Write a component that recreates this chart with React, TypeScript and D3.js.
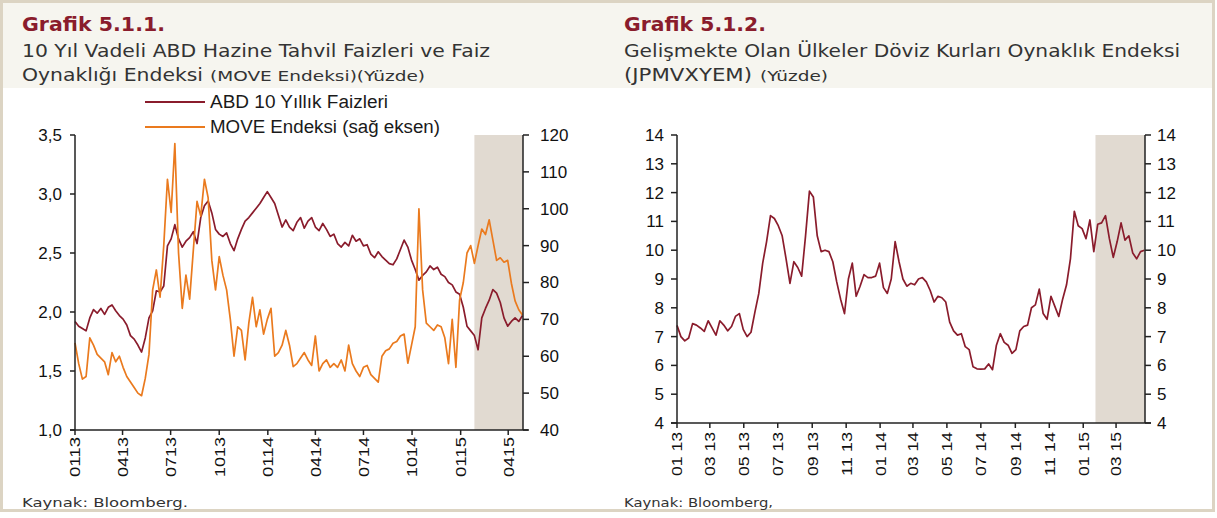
import React from "react";
import * as d3 from "d3";

// weekly readings, first point 2013-01-01
const ust10y = [
  1.92, 1.88, 1.86, 1.84, 1.95, 2.02, 1.99, 2.03, 1.98, 2.04, 2.06, 2.01, 1.97, 1.94, 1.89, 1.8,
  1.77, 1.72, 1.66, 1.78, 1.95, 2.01, 2.18, 2.17, 2.22, 2.56, 2.62, 2.74, 2.62, 2.55, 2.6, 2.63,
  2.68, 2.58, 2.8, 2.9, 2.94, 2.84, 2.7, 2.66, 2.64, 2.67, 2.58, 2.52, 2.62, 2.7, 2.77, 2.8,
  2.84, 2.88, 2.92, 2.97, 3.02, 2.97, 2.92, 2.82, 2.72, 2.78, 2.72, 2.69, 2.76, 2.8, 2.71, 2.77,
  2.8, 2.72, 2.69, 2.75, 2.7, 2.64, 2.66, 2.58, 2.55, 2.59, 2.56, 2.65, 2.6, 2.62, 2.56, 2.57,
  2.49, 2.46, 2.51, 2.47, 2.44, 2.41, 2.4, 2.45, 2.53, 2.61, 2.55, 2.44, 2.36, 2.27, 2.31, 2.34,
  2.39, 2.36, 2.38, 2.32, 2.3, 2.25, 2.23, 2.17, 2.15, 2.04, 1.88, 1.84, 1.8, 1.68, 1.95, 2.03,
  2.1, 2.19, 2.16, 2.08, 1.95, 1.88, 1.92, 1.95, 1.92, 1.97,
];

const moveIndex = [
  63.6, 58, 53.8, 54.5, 65, 63, 60.5, 59.5, 58.5, 55, 61, 58.5, 60, 57, 54.5, 53,
  51.5, 50, 49.3, 54, 60.5, 78, 83.4, 76, 90, 108, 99, 117.7, 88, 73, 82, 75.5,
  88.8, 102, 98, 108, 103, 86, 78, 87, 82, 78, 70, 60, 68, 67, 59, 69,
  76, 68, 72.6, 66, 70, 73, 60, 61, 63, 67, 63, 57.2, 58, 59.5, 61, 59,
  57.5, 65.5, 56, 58, 59, 57, 58, 57, 59, 56, 63, 58, 56, 54.5, 57, 57.5,
  55, 54, 53, 60, 61.5, 62, 63.5, 64, 65.5, 66, 58.1, 63, 68, 100, 78, 69,
  68, 67, 68.5, 68, 65, 58, 70, 57, 75.3, 80, 88, 90, 85.2, 90, 94.5, 93,
  97, 91.5, 86, 86.7, 85.5, 86, 79.8, 75, 72.6, 71.2,
];

const jpmvxyem = [
  7.39, 7.0, 6.85, 6.95, 7.45, 7.4, 7.3, 7.18, 7.55, 7.3, 7.05, 7.55, 7.4, 7.2, 7.35, 7.7,
  7.8, 7.25, 7.0, 7.15, 7.85, 8.5, 9.55, 10.3, 11.2, 11.1, 10.85, 10.5, 9.7, 8.85, 9.6, 9.4,
  9.1, 10.5, 12.05, 11.85, 10.5, 9.95, 10.0, 9.95, 9.6, 8.9, 8.3, 7.8, 9.0, 9.55, 8.4, 8.75,
  9.15, 9.05, 9.05, 9.1, 9.55, 8.7, 8.5, 9.0, 10.3, 9.6, 9.0, 8.75, 8.85, 8.8, 9.0, 9.05,
  8.9, 8.6, 8.2, 8.4, 8.35, 8.2, 7.5, 7.2, 7.05, 7.1, 6.65, 6.55, 5.95, 5.88, 5.87, 5.88,
  6.05, 5.85, 6.7, 7.1, 6.8, 6.7, 6.42, 6.55, 7.2, 7.35, 7.4, 8.0, 8.1, 8.65, 7.8, 7.6,
  8.4, 8.05, 7.7, 8.3, 8.8, 9.7, 11.35, 10.85, 10.75, 10.4, 11.05, 9.95, 10.9, 10.95, 11.2, 10.4,
  9.75, 10.3, 10.95, 10.35, 10.5, 9.9, 9.7, 9.95, 10.0,
];

const seriesStart = new Date(2013, 0, 1);
const leftEnd = new Date(2015, 3, 29);
const rightEnd = new Date(2015, 3, 22);
const leftShadeStart = new Date(2015, 0, 27);
const rightShadeStart = new Date(2015, 0, 23);

const legendNames = ["ABD 10 Yıllık Faizleri", "MOVE Endeksi (sağ eksen)"];

const MAROON = "#8a1c2c";
const ORANGE = "#ea7a1e";
const SHADE = "#e1dad1";
const AXIS = "#222";
const TICKFONT = "'Liberation Sans', Arial, sans-serif";
const TITLEFONT = "'DejaVu Sans', 'Open Sans', sans-serif";

const weekDate = (i: number) => d3.timeDay.offset(seriesStart, 7 * i);
const comma = (v: number) => d3.format(".1f")(v).replace(".", ",");

export default function App() {
  // left panel scales
  const xL = d3.scaleTime().domain([seriesStart, leftEnd]).range([75, 523]);
  const yL = d3.scaleLinear().domain([1, 3.5]).range([430, 135]);
  const yL2 = d3.scaleLinear().domain([40, 120]).range([430, 135]);

  // right panel scales
  const xR = d3.scaleTime().domain([seriesStart, rightEnd]).range([677, 1145]);
  const yR = d3.scaleLinear().domain([4, 14]).range([423, 135]);

  const lineUst = d3.line<number>().x((_, i) => xL(weekDate(i))).y((d) => yL(d));
  const lineMove = d3.line<number>().x((_, i) => xL(weekDate(i))).y((d) => yL2(d));
  const lineEm = d3.line<number>().x((_, i) => xR(weekDate(i))).y((d) => yR(d));

  const ticksL = xL.ticks(d3.timeMonth.every(3)!);
  const ticksR = xR.ticks(d3.timeMonth.every(2)!);

  return (
    <svg
      width={1217}
      height={518}
      style={{ position: "absolute", left: 0, top: 0, background: "#fff" }}
    >
      {/* frame + header band */}
      <rect x={0} y={0} width={1217} height={518} fill="#fff" />
      <rect x={3} y={3} width={1209} height={85} fill="#f6f5ef" />
      <rect x={1.5} y={1.5} width={1212} height={509} fill="none" stroke="#dcd4c3" strokeWidth={3} />

      {/* titles */}
      <g fontFamily={TITLEFONT} fill="#333">
        <text x={22} y={31} fontSize={19} fontWeight="bold" fill="#8a1c2c" textLength={143} lengthAdjust="spacingAndGlyphs">
          Grafik 5.1.1.
        </text>
        <text x={22} y={57} fontSize={17} textLength={468} lengthAdjust="spacingAndGlyphs">
          10 Yıl Vadeli ABD Hazine Tahvil Faizleri ve Faiz
        </text>
        <text x={22} y={81} fontSize={17} textLength={181} lengthAdjust="spacingAndGlyphs">
          Oynaklığı Endeksi
        </text>
        <text x={210} y={81} fontSize={14} textLength={215} lengthAdjust="spacingAndGlyphs">
          (MOVE  Endeksi)(Yüzde)
        </text>

        <text x={624} y={31} fontSize={19} fontWeight="bold" fill="#8a1c2c" textLength={142} lengthAdjust="spacingAndGlyphs">
          Grafik 5.1.2.
        </text>
        <text x={624} y={57} fontSize={17} textLength={556} lengthAdjust="spacingAndGlyphs">
          Gelişmekte Olan Ülkeler Döviz Kurları Oynaklık Endeksi
        </text>
        <text x={624} y={81} fontSize={17} textLength={128} lengthAdjust="spacingAndGlyphs">
          (JPMVXYEM)
        </text>
        <text x={760} y={81} fontSize={14} textLength={68} lengthAdjust="spacingAndGlyphs">
          (Yüzde)
        </text>

        <text x={22} y={507} fontSize={13} textLength={166} lengthAdjust="spacingAndGlyphs">
          Kaynak: Bloomberg.
        </text>
        <text x={624} y={507} fontSize={13} textLength={149} lengthAdjust="spacingAndGlyphs">
          Kaynak: Bloomberg,
        </text>
      </g>

      {/* legend */}
      <g fontFamily={TICKFONT} fontSize={18} fill="#1a1a1a">
        <line x1={145} x2={205} y1={102} y2={102} stroke={MAROON} strokeWidth={2} />
        <text x={210} y={108} textLength={178} lengthAdjust="spacingAndGlyphs">{legendNames[0]}</text>
        <line x1={145} x2={205} y1={127} y2={127} stroke={ORANGE} strokeWidth={2} />
        <text x={210} y={133} textLength={230} lengthAdjust="spacingAndGlyphs">{legendNames[1]}</text>
      </g>

      {/* ---------- left panel ---------- */}
      <rect
        x={xL(leftShadeStart)}
        y={135}
        width={523 - xL(leftShadeStart)}
        height={430 - 135}
        fill={SHADE}
      />
      <path d={lineUst(ust10y) || ""} fill="none" stroke={MAROON} strokeWidth={1.7} strokeLinejoin="round" />
      <path d={lineMove(moveIndex) || ""} fill="none" stroke={ORANGE} strokeWidth={1.7} strokeLinejoin="round" />

      <g stroke={AXIS} strokeWidth={1.5}>
        <line x1={75} x2={75} y1={135} y2={430} />
        <line x1={523} x2={523} y1={135} y2={430} />
        <line x1={70} x2={528} y1={430} y2={430} />
      </g>
      <g fontFamily={TICKFONT} fontSize={17} fill="#111">
        {yL.ticks(5).map((t) => (
          <g key={"yl" + t}>
            <line x1={70} x2={75} y1={yL(t)} y2={yL(t)} stroke={AXIS} strokeWidth={1.5} />
            <text x={62} y={yL(t)} dy="0.35em" textAnchor="end">{comma(t)}</text>
          </g>
        ))}
        {yL2.ticks(8).map((t) => (
          <g key={"yr" + t}>
            <line x1={523} x2={529} y1={yL2(t)} y2={yL2(t)} stroke={AXIS} strokeWidth={1.5} />
            <text x={540} y={yL2(t)} dy="0.35em">{t}</text>
          </g>
        ))}
        {ticksL.map((t) => (
          <g key={"xl" + t.getTime()} transform={`translate(${xL(t)},0)`}>
            <line y1={430} y2={435} stroke={AXIS} strokeWidth={1.5} />
            <text
              transform="translate(0,437) rotate(-90)"
              dy="0.36em"
              textAnchor="end"
              fontSize={15}
              textLength={40}
              lengthAdjust="spacingAndGlyphs"
            >
              {d3.timeFormat("%m%y")(t)}
            </text>
          </g>
        ))}
      </g>

      {/* ---------- right panel ---------- */}
      <rect
        x={xR(rightShadeStart)}
        y={135}
        width={1145 - xR(rightShadeStart)}
        height={423 - 135}
        fill={SHADE}
      />
      <path d={lineEm(jpmvxyem) || ""} fill="none" stroke={MAROON} strokeWidth={1.7} strokeLinejoin="round" />

      <g stroke={AXIS} strokeWidth={1.5}>
        <line x1={677} x2={677} y1={135} y2={423} />
        <line x1={1145} x2={1145} y1={135} y2={423} />
        <line x1={671} x2={1151} y1={423} y2={423} />
      </g>
      <g fontFamily={TICKFONT} fontSize={17} fill="#111">
        {yR.ticks(10).map((t) => (
          <g key={"ry" + t}>
            <line x1={671} x2={677} y1={yR(t)} y2={yR(t)} stroke={AXIS} strokeWidth={1.5} />
            <line x1={1145} x2={1151} y1={yR(t)} y2={yR(t)} stroke={AXIS} strokeWidth={1.5} />
            <text x={664} y={yR(t)} dy="0.35em" textAnchor="end">{t}</text>
            <text x={1157} y={yR(t)} dy="0.35em">{t}</text>
          </g>
        ))}
        {ticksR.map((t) => (
          <g key={"xr" + t.getTime()} transform={`translate(${xR(t)},0)`}>
            <line y1={423} y2={428} stroke={AXIS} strokeWidth={1.5} />
            <text
              transform="translate(0,432) rotate(-90)"
              dy="0.36em"
              textAnchor="end"
              fontSize={15}
              textLength={44}
              lengthAdjust="spacingAndGlyphs"
            >
              {d3.timeFormat("%m %y")(t)}
            </text>
          </g>
        ))}
      </g>
    </svg>
  );
}
